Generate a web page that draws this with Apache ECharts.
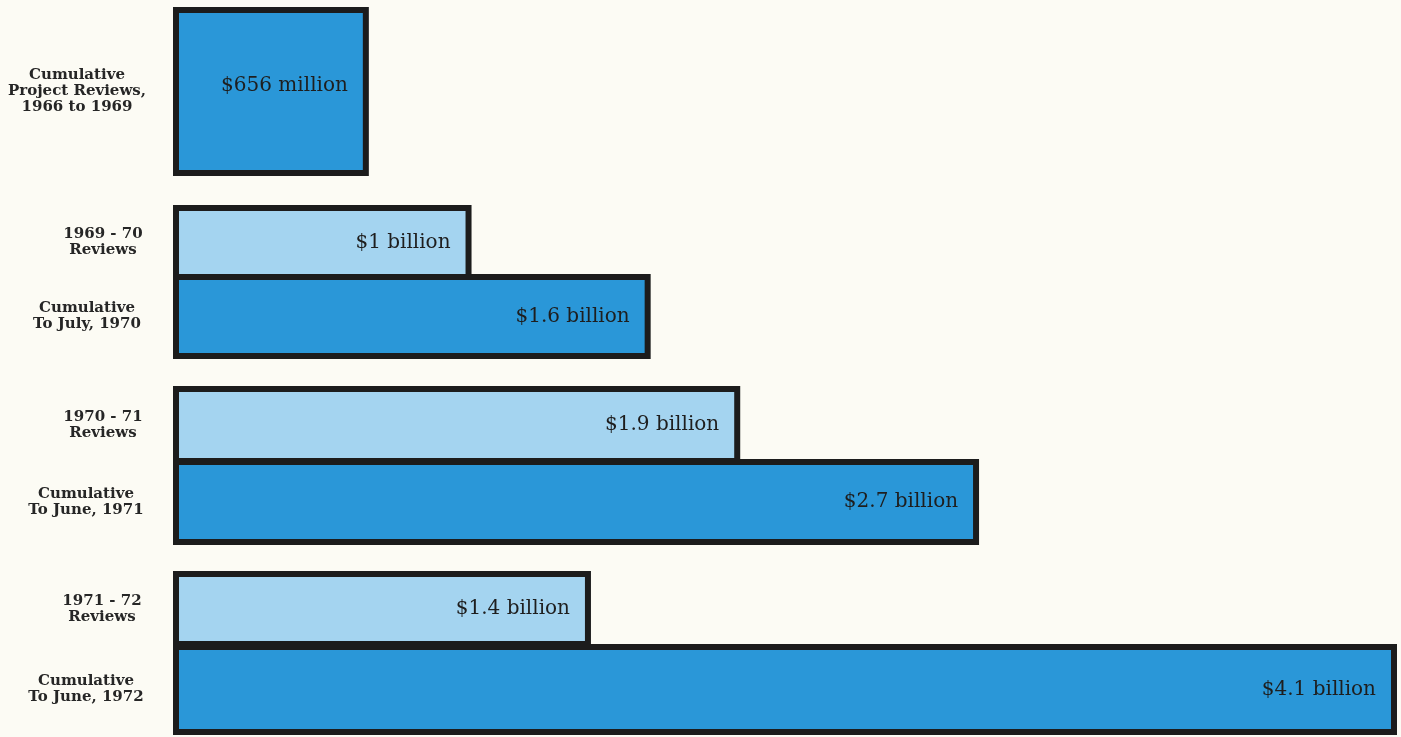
<!DOCTYPE html>
<html>
<head>
<meta charset="utf-8">
<script src="https://cdn.jsdelivr.net/npm/echarts@6/dist/echarts.min.js"></script>
<style>
html,body{margin:0;padding:0;background:#fcfbf4;}
#chart{width:1401px;height:737px;}
</style>
</head>
<body>
<div id="chart"></div>
<script>
// ---- data (billions of dollars) ----
const categories = [
  'Cumulative\nProject Reviews,\n1966 to 1969',
  '1969 - 70\nReviews',
  'Cumulative\nTo July, 1970',
  '1970 - 71\nReviews',
  'Cumulative\nTo June, 1971',
  '1971 - 72\nReviews',
  'Cumulative\nTo June, 1972'
];
const values = [0.656, 1.0, 1.6, 1.9, 2.7, 1.4, 4.1];
const valueLabels = ['$656 million', '$1 billion', '$1.6 billion', '$1.9 billion', '$2.7 billion', '$1.4 billion', '$4.1 billion'];
const kinds = ['cumulative', 'annual', 'cumulative', 'annual', 'cumulative', 'annual', 'cumulative'];

// ---- layout ----
const gridTops    = [7, 205, 274, 386, 459, 571, 644];
const gridHeights = [169, 75, 85, 78, 86, 76, 91];
const labelMargins = [96, 70, 86, 70, 87, 71, 87];
const labelShiftUp = [6, 0, 0, 0, 0, 0, 0];
const colors = { cumulative: '#2a97d8', annual: '#a4d4f0' };

const grids = [], xAxes = [], yAxes = [], series = [];
categories.forEach((cat, i) => {
  grids.push({ left: 173, right: 4, top: gridTops[i], height: gridHeights[i] });
  xAxes.push({ gridIndex: i, type: 'value', min: 0, max: 4.1, show: false });
  yAxes.push({
    gridIndex: i, type: 'category', data: [cat],
    axisLine: { show: false }, axisTick: { show: false }, splitLine: { show: false },
    axisLabel: {
      margin: labelMargins[i], align: 'center',
      padding: [0, 0, labelShiftUp[i] * 2, 0],
      fontFamily: 'DejaVu Serif', fontWeight: 'bold', fontSize: 15, lineHeight: 16, color: '#262626'
    }
  });
  series.push({
    type: 'bar', xAxisIndex: i, yAxisIndex: i, barWidth: '100%',
    data: [values[i]],
    itemStyle: { color: colors[kinds[i]], borderColor: '#1c1c1c', borderWidth: 6 },
    label: {
      show: true, position: 'insideRight', distance: 21,
      offset: [0, -labelShiftUp[i]],
      formatter: () => valueLabels[i],
      fontFamily: 'DejaVu Serif', fontSize: 20, color: '#1e1e1e'
    },
    silent: true, animation: false
  });
});

const chart = echarts.init(document.getElementById('chart'));
chart.setOption({
  backgroundColor: '#fcfbf4',
  animation: false,
  grid: grids, xAxis: xAxes, yAxis: yAxes, series: series
});
</script>
</body>
</html>
